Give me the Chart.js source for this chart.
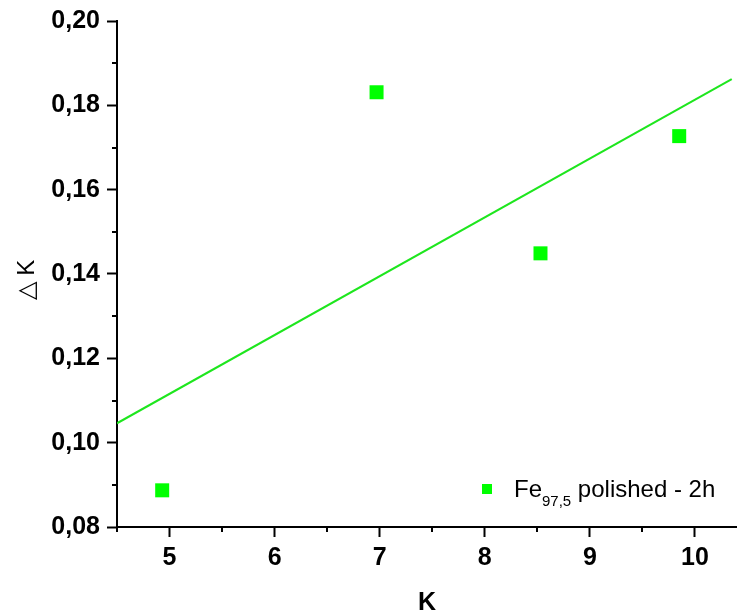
<!DOCTYPE html>
<html>
<head>
<meta charset="utf-8">
<script src="https://cdn.jsdelivr.net/npm/chart.js@4"></script>
<style>
  html, body { margin: 0; padding: 0; background: #fff; }
  canvas { display: block; }
</style>
</head>
<body>
<canvas id="chart_deltaK" width="737" height="614"></canvas>
<script>
// measured points
var kValues = [4.93, 6.97, 8.53, 9.85];
var deltaKValues = [0.0887, 0.1831, 0.1449, 0.1727];

var fitK = [4.5, 10.35];
var fitDeltaK = [0.1046, 0.1862];

// axis ticks
var xMajorTicks = [5, 6, 7, 8, 9, 10];
var xMinorTicks = [4.5, 5.5, 6.5, 7.5, 8.5, 9.5];
var yMajorTicks = [0.08, 0.10, 0.12, 0.14, 0.16, 0.18, 0.20];
var yMinorTicks = [0.09, 0.11, 0.13, 0.15, 0.17, 0.19];

var seriesLabel = ['Fe', '97,5', ' polished - 2h'];

var FONT = "'Liberation Sans', Arial, sans-serif";

var chart_deltaK = new Chart(document.getElementById('chart_deltaK'), {
    type: 'scatter',
    data: {
        datasets: [
            {
                label: seriesLabel.join(''),
                data: kValues.map(function (k, i) { return {x: k, y: deltaKValues[i]}; }),
                pointStyle: 'rect',
                pointRadius: 9.9,
                backgroundColor: '#00ff00',
                borderColor: '#00ff00',
                borderWidth: 0,
                showLine: false
            },
            {
                label: 'fit',
                data: fitK.map(function (k, i) { return {x: k, y: fitDeltaK[i]}; }),
                showLine: true,
                pointRadius: 0,
                borderColor: '#1ee61e',
                borderWidth: 2,
                fill: false
            }
        ]
    },
    options: {
        animation: false,
        responsive: false,
        // no auto padding: point radius would otherwise shrink the plot on the right
        layout: { autoPadding: false, padding: { top: 21, right: 0, left: 0, bottom: 0 } },
        plugins: {
            legend: { display: false },
            tooltip: { enabled: false }
        },
        scales: {
            x: {
                type: 'linear',
                min: 4.5,
                max: 10.4,
                afterBuildTicks: function (scale) {
                    scale.ticks = xMajorTicks.map(function (v) { return {value: v}; });
                },
                afterFit: function (scale) {
                    scale.height = 87;
                    scale.paddingLeft = 0;
                    scale.paddingRight = 0;
                },
                ticks: {
                    color: '#000',
                    padding: 6,
                    maxRotation: 0,
                    font: { family: FONT, size: 25, weight: 'bold' },
                    callback: function (v) { return String(v); }
                },
                grid: {
                    drawOnChartArea: false,
                    drawTicks: true,
                    tickLength: 10,
                    tickWidth: 2,
                    tickColor: '#000'
                },
                border: { display: true, color: '#000', width: 2 },
                title: {
                    display: true,
                    text: 'K',
                    color: '#000',
                    padding: { top: 0, bottom: 0 },
                    font: { family: FONT, size: 25, weight: 'bold', lineHeight: 0.85 }
                }
            },
            y: {
                type: 'linear',
                min: 0.08,
                max: 0.20,
                afterBuildTicks: function (scale) {
                    scale.ticks = yMajorTicks.map(function (v) { return {value: v}; });
                },
                afterFit: function (scale) {
                    scale.width = 117;
                    scale.paddingTop = 0;
                    scale.paddingBottom = 0;
                },
                ticks: {
                    color: '#000',
                    padding: 7,
                    font: { family: FONT, size: 25, weight: 'bold' },
                    callback: function (v) { return v.toFixed(2).replace('.', ','); }
                },
                grid: {
                    drawOnChartArea: false,
                    drawTicks: true,
                    tickLength: 10,
                    tickWidth: 2,
                    tickColor: '#000'
                },
                border: { display: true, color: '#000', width: 2 },
                title: {
                    display: true,
                    text: '\u25B3 K\u2002',
                    color: '#000',
                    padding: { top: 13, bottom: 0 },
                    font: { family: FONT, size: 24, weight: 'normal' }
                }
            }
        }
    },
    plugins: [{
        id: 'whiteBackground',
        beforeDraw: function (chart) {
            var ctx = chart.ctx;
            ctx.save();
            ctx.fillStyle = 'white';
            ctx.fillRect(0, 0, chart.width, chart.height);
            ctx.restore();
        }
    }, {
        id: 'minorTicks',
        afterDraw: function (chart) {
            var ctx = chart.ctx;
            var xs = chart.scales.x, ys = chart.scales.y;
            var area = chart.chartArea;
            ctx.save();
            ctx.strokeStyle = '#000';
            ctx.lineWidth = 2;
            ctx.beginPath();
            xMinorTicks.forEach(function (v) {
                var px = Math.round(xs.getPixelForValue(v));
                ctx.moveTo(px, area.bottom);
                ctx.lineTo(px, area.bottom + 5);
            });
            yMinorTicks.forEach(function (v) {
                var py = Math.round(ys.getPixelForValue(v));
                ctx.moveTo(area.left, py);
                ctx.lineTo(area.left - 5, py);
            });
            ctx.stroke();
            ctx.restore();
        }
    }, {
        id: 'subscriptLegend',
        afterDraw: function (chart) {
            var ctx = chart.ctx;
            var ds = chart.data.datasets[0];
            ctx.save();
            Chart.helpers.drawPoint(ctx, {
                pointStyle: 'rect',
                radius: 7.1,
                borderWidth: 0
            }, 487, 489);
            ctx.fillStyle = ds.backgroundColor;
            ctx.fill();
            ctx.fillStyle = '#000';
            ctx.textBaseline = 'alphabetic';
            var x = 514, base = 497;
            ctx.font = '24px ' + FONT;
            ctx.fillText(seriesLabel[0], x, base);
            x += ctx.measureText(seriesLabel[0]).width;
            ctx.font = '15px ' + FONT;
            ctx.fillText(seriesLabel[1], x, base + 9);
            x += ctx.measureText(seriesLabel[1]).width;
            ctx.font = '24px ' + FONT;
            ctx.fillText(seriesLabel[2], x, base);
            ctx.restore();
        }
    }]
});
</script>
</body>
</html>
